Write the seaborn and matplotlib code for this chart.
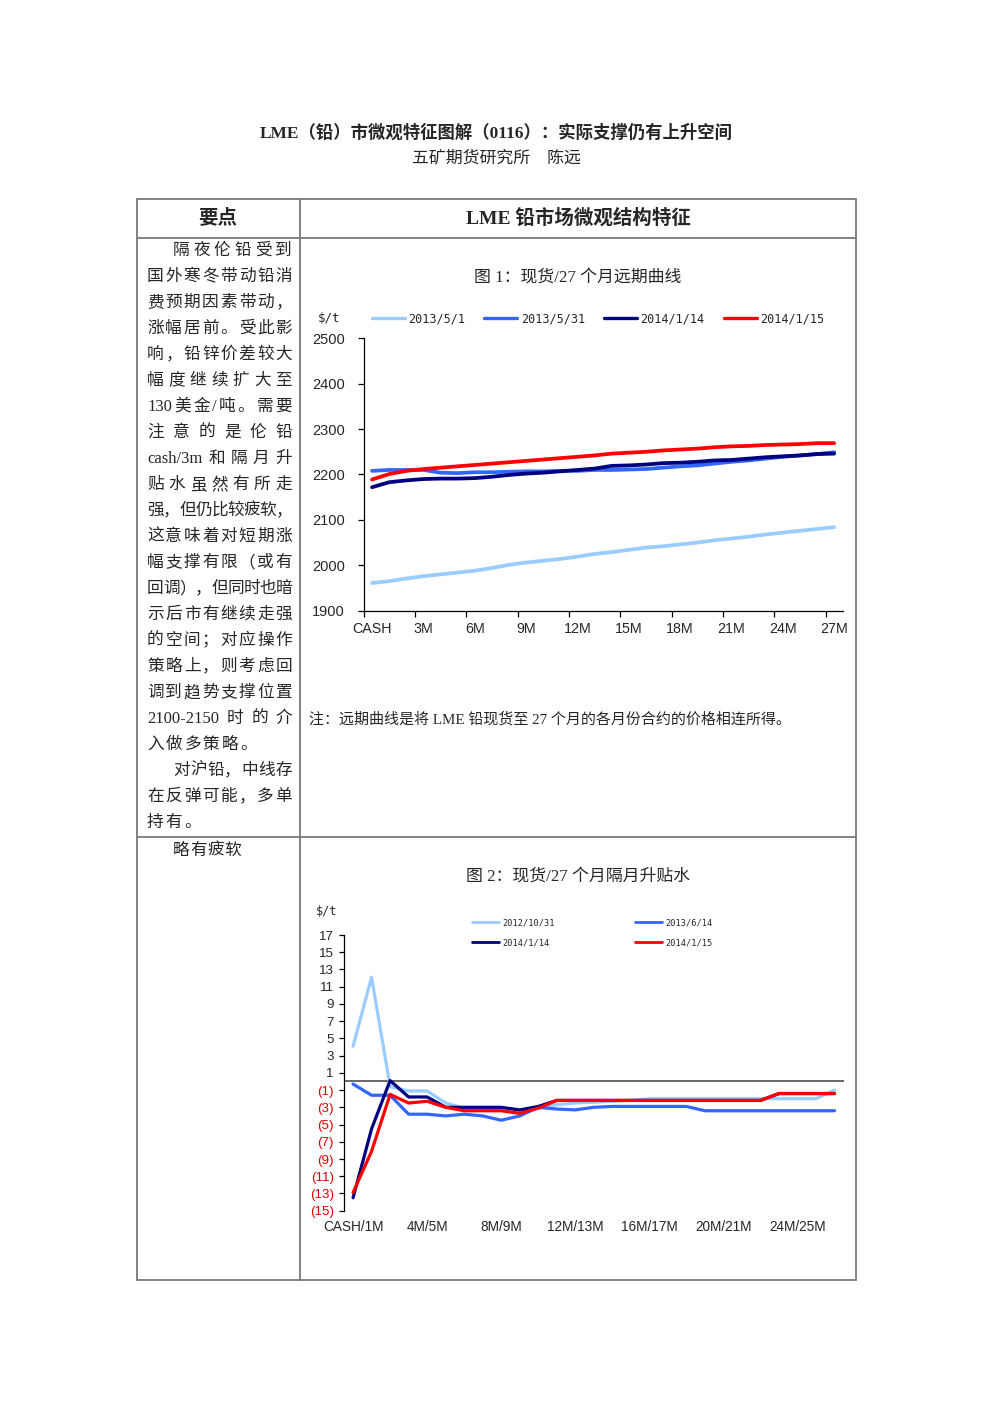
import re
import numpy as np
import pandas as pd
import matplotlib
matplotlib.use("Agg")
import matplotlib.pyplot as plt
from matplotlib.patches import Rectangle
import seaborn as sns

# ---------------- data ----------------
fwd_categories = ['CASH'] + [f'{m}M' for m in range(1, 28)]
fwd_dates = ['2013/5/1', '2013/5/31', '2014/1/14', '2014/1/15']
fwd_2013_05_01 = [1961, 1965, 1971, 1976, 1980, 1984, 1988, 1994, 2001, 2006, 2010, 2014, 2019, 2025,
                  2029, 2034, 2039, 2042, 2046, 2050, 2055, 2059, 2063, 2068, 2072, 2076, 2080, 2084]
fwd_2013_05_31 = [2208, 2210, 2210, 2210, 2204, 2203, 2205, 2205, 2206, 2207, 2207, 2208, 2208, 2210,
                  2210, 2211, 2212, 2215, 2218, 2220, 2224, 2228, 2231, 2235, 2239, 2242, 2245, 2249]
fwd_2014_01_14 = [2172, 2183, 2187, 2190, 2191, 2191, 2192, 2195, 2199, 2202, 2204, 2207, 2210, 2213,
                  2219, 2220, 2222, 2225, 2226, 2228, 2231, 2232, 2235, 2238, 2240, 2242, 2245, 2246]
fwd_2014_01_15 = [2189, 2201, 2208, 2212, 2215, 2218, 2221, 2224, 2227, 2230, 2233, 2236, 2239, 2242,
                  2246, 2248, 2250, 2253, 2255, 2257, 2260, 2262, 2263, 2265, 2266, 2267, 2269, 2269]
fwd_yticks = [1900, 2000, 2100, 2200, 2300, 2400, 2500]

spr_categories = ['CASH/1M'] + [f'{m}M/{m + 1}M' for m in range(1, 27)]
spr_dates = ['2012/10/31', '2013/6/14', '2014/1/14', '2014/1/15']
spr_2012_10_31 = [4.1, 12.1, -0.6, -1.1, -1.1, -2.5, -3.1, -3.2, -3.3, -3.4, -3.0, -2.7, -2.5, -2.4,
                  -2.3, -2.2, -2.0, -2.0, -2.0, -2.0, -2.0, -2.0, -2.0, -2.0, -2.0, -2.0, -1.0]
spr_2013_06_14 = [-0.3, -1.6, -1.6, -3.8, -3.8, -4.0, -3.8, -4.0, -4.5, -4.0, -3.0, -3.2, -3.3, -3.0,
                  -2.9, -2.9, -2.9, -2.9, -2.9, -3.4, -3.4, -3.4, -3.4, -3.4, -3.4, -3.4, -3.4]
spr_2014_01_14 = [-13.5, -5.5, 0.1, -1.8, -1.8, -3.0, -3.0, -3.0, -3.0, -3.3, -2.9, -2.2, -2.2, -2.2,
                  -2.2, -2.2, -2.2, -2.2, -2.2, -2.2, -2.2, -2.2, -2.2, -1.4, -1.4, -1.4, -1.4]
spr_2014_01_15 = [-12.9, -8.1, -1.5, -2.5, -2.3, -3.0, -3.4, -3.4, -3.4, -3.7, -3.1, -2.2, -2.2, -2.2,
                  -2.2, -2.2, -2.2, -2.2, -2.2, -2.2, -2.2, -2.2, -2.2, -1.4, -1.4, -1.4, -1.4]
spr_yticks = list(range(-15, 18, 2))

title = 'LME（铅）市微观特征图解（0116）：实际支撑仍有上升空间'
subtitle = '五矿期货研究所    陈远'
header_left = '要点'
header_right = 'LME 铅市场微观结构特征'
chart1_title = '图 1：现货/27 个月远期曲线'
chart2_title = '图 2：现货/27 个月隔月升贴水'
note_text = '注：远期曲线是将 LME 铅现货至 27 个月的各月份合约的价格相连所得。'
left_lines = [
    ('隔夜伦铅受到', True, True), ('国外寒冬带动铅消', False, True), ('费预期因素带动，', False, True),
    ('涨幅居前。受此影', False, True), ('响，铅锌价差较大', False, True), ('幅度继续扩大至', False, True),
    ('130 美金/吨。需要', False, True), ('注意的是伦铅', False, True), ('cash/3m 和隔月升', False, True),
    ('贴水虽然有所走', False, True), ('强，但仍比较疲软，', False, True), ('这意味着对短期涨', False, True),
    ('幅支撑有限（或有', False, True), ('回调），但同时也暗', False, True), ('示后市有继续走强', False, True),
    ('的空间；对应操作', False, True), ('策略上，则考虑回', False, True), ('调到趋势支撑位置', False, True),
    ('2100-2150 时的介', False, True), ('入做多策略。', False, False), ('对沪铅，中线存', True, True),
    ('在反弹可能，多单', False, True), ('持有。', False, False),
]
row2_text = '略有疲软'

fwd_colors = ['#99CCFF', '#3366FF', '#000080', '#FF0000']
spr_colors = ['#99CCFF', '#3366FF', '#000080', '#FF0000']

# ---------------- style ----------------
sns.set_style('ticks')
SANS = ['Liberation Sans', 'Noto Sans CJK SC']
SERIF = ['Liberation Serif', 'Noto Sans CJK SC']
MONO = ['DejaVu Sans Mono']
plt.rcParams['font.family'] = SANS
plt.rcParams['axes.unicode_minus'] = False

W, H = 992, 1403
fig = plt.figure(figsize=(W / 100, H / 100), dpi=100)
fig.patch.set_facecolor('white')

# background layer in pixel coordinates
bg = fig.add_axes([0, 0, 1, 1], zorder=-5)
bg.set_xlim(0, W)
bg.set_ylim(H, 0)
bg.axis('off')
renderer = fig.canvas.get_renderer()

GRAY = '#7a7a7a'
LW = 1.3
bg.add_patch(Rectangle((137, 199), 856 - 137, 1280 - 199, fill=False, ec=GRAY, lw=LW))
bg.plot([300, 300], [199, 1280], color=GRAY, lw=LW)
bg.plot([137, 856], [238.3, 238.3], color=GRAY, lw=LW)
bg.plot([137, 856], [836.7, 836.7], color=GRAY, lw=LW)

bg.text(496, 133, title, fontsize=12.5, fontweight='bold', family=SERIF, ha='center', va='center')
bg.text(496, 158, subtitle, fontsize=12.2, family=SERIF, ha='center', va='center')
bg.text(218, 218, header_left, fontsize=14, fontweight='bold', family=SERIF, ha='center', va='center')
bg.text(578, 218, header_right, fontsize=14, fontweight='bold', family=SERIF, ha='center', va='center')
bg.text(578, 278, chart1_title, fontsize=12.2, family=SERIF, ha='center', va='center')
bg.text(309, 719, note_text, fontsize=10.8, family=SERIF, ha='left', va='center')
bg.text(578, 877, chart2_title, fontsize=12.2, family=SERIF, ha='center', va='center')


def draw_line(text, y, x0, x1, justify, size=12.0, gap=2.0):
    tokens = re.findall(r'[A-Za-z0-9/\-\.]+|[^\s]', text)
    objs = [bg.text(0, y, t, fontsize=size, family=SERIF, ha='left', va='center') for t in tokens]
    widths = [o.get_window_extent(renderer=renderer).width for o in objs]
    if justify and len(tokens) > 1:
        g = (x1 - x0 - sum(widths)) / (len(tokens) - 1)
    else:
        g = gap
    x = x0
    for o, w in zip(objs, widths):
        o.set_x(x)
        x += w + g


for i, (txt, indent, just) in enumerate(left_lines):
    draw_line(txt, 251 + 26 * i, 173 if indent else 147, 292, just)
draw_line(row2_text, 851, 173, 292, False, gap=0.5)

# ---------------- chart 1 ----------------
fwd_series = [fwd_2013_05_01, fwd_2013_05_31, fwd_2014_01_14, fwd_2014_01_15]
df1 = pd.DataFrame([
    {'pos': i, 'price': v, 'date': d}
    for d, vals in zip(fwd_dates, fwd_series) for i, v in enumerate(vals)
])
ax1 = fig.add_axes([363.5 / W, 1 - 610.7 / H, 479.2 / W, 272.4 / H])
sns.lineplot(data=df1, x='pos', y='price', hue='date', hue_order=fwd_dates,
             palette=dict(zip(fwd_dates, fwd_colors)), linewidth=2.7, ax=ax1, legend=True)
h1, l1 = ax1.get_legend_handles_labels()
ax1.get_legend().remove()
ax1.set_xlim(-0.5, len(fwd_categories) - 0.5)
ax1.set_ylim(fwd_yticks[0], fwd_yticks[-1])
ax1.set_yticks(fwd_yticks)
ax1.set_yticklabels([str(t) for t in fwd_yticks])
ax1.set_xticks(np.arange(-0.5, len(fwd_categories) - 1, 3))
ax1.set_xticklabels([])
lab_pos = list(range(0, len(fwd_categories), 3))
ax1.set_xticks(lab_pos, minor=True)
ax1.set_xticklabels([fwd_categories[i] for i in lab_pos], minor=True)
ax1.tick_params(axis='x', which='major', length=4.3, width=0.9, color='black', direction='out')
ax1.tick_params(axis='x', which='minor', length=0, pad=8, labelsize=10.3)
ax1.tick_params(axis='y', length=4.3, width=0.9, color='black', direction='out', pad=9, labelsize=10.5)
ax1.set_xlabel('')
ax1.set_ylabel('')
for s in ['top', 'right']:
    ax1.spines[s].set_visible(False)
for s in ['left', 'bottom']:
    ax1.spines[s].set_color('black')
    ax1.spines[s].set_linewidth(0.9)
ax1.patch.set_alpha(0)

bg.text(318, 319, '$/t', fontsize=9, family=MONO, ha='left', va='center')
for h in h1:
    h.set_linewidth(2.4)
fig.legend(h1, l1, loc='center left', bbox_to_anchor=(371.8 / W, 1 - 319 / H), ncol=4,
           frameon=False, prop={'family': MONO, 'size': 8.5}, handlelength=2.8,
           handletextpad=0.3, columnspacing=1.6, borderpad=0, borderaxespad=0)

# ---------------- chart 2 ----------------
spr_series = [spr_2012_10_31, spr_2013_06_14, spr_2014_01_14, spr_2014_01_15]
df2 = pd.DataFrame([
    {'pos': i, 'spread': v, 'date': d}
    for d, vals in zip(spr_dates, spr_series) for i, v in enumerate(vals)
])
ax2 = fig.add_axes([343.8 / W, 1 - 1210.7 / H, 500 / W, 275.7 / H])
ax2.axhline(0, color='#404040', lw=1.1, zorder=1)
sns.lineplot(data=df2, x='pos', y='spread', hue='date', hue_order=spr_dates,
             palette=dict(zip(spr_dates, spr_colors)), linewidth=2.3, ax=ax2, legend=True)
h2, l2 = ax2.get_legend_handles_labels()
ax2.get_legend().remove()
ax2.set_xlim(-0.5, len(spr_categories) - 0.5)
ax2.set_ylim(spr_yticks[0], spr_yticks[-1])
ax2.set_yticks(spr_yticks)
ax2.set_yticklabels([str(t) if t > 0 else f'({abs(t)})' for t in spr_yticks])
for lbl, t in zip(ax2.get_yticklabels(), spr_yticks):
    if t < 0:
        lbl.set_color('#E00000')
lab2 = list(range(0, len(spr_categories), 4))
ax2.set_xticks(lab2)
ax2.set_xticklabels([spr_categories[i] for i in lab2])
ax2.tick_params(axis='x', length=0, pad=7, labelsize=9.8)
ax2.tick_params(axis='y', length=3.6, width=0.9, color='black', direction='out', pad=3.5, labelsize=9.6)
ax2.set_xlabel('')
ax2.set_ylabel('')
for s in ['top', 'right', 'bottom']:
    ax2.spines[s].set_visible(False)
ax2.spines['left'].set_color('black')
ax2.spines['left'].set_linewidth(0.9)
ax2.patch.set_alpha(0)

bg.text(316, 911.7, '$/t', fontsize=8.6, family=MONO, ha='left', va='center')
order = [0, 2, 1, 3]
h2o = [h2[i] for i in order]
l2o = [l2[i] for i in order]
for h in h2o:
    h.set_linewidth(2.0)
fig.legend(h2o, l2o, loc='center left', bbox_to_anchor=(472.3 / W, 1 - 932.8 / H), ncol=2,
           frameon=False, prop={'family': MONO, 'size': 6.2}, handlelength=3.1,
           handletextpad=0.42, columnspacing=9.3, labelspacing=1.25, borderpad=0, borderaxespad=0)

fig.savefig('out.png', dpi=100, facecolor='white')
